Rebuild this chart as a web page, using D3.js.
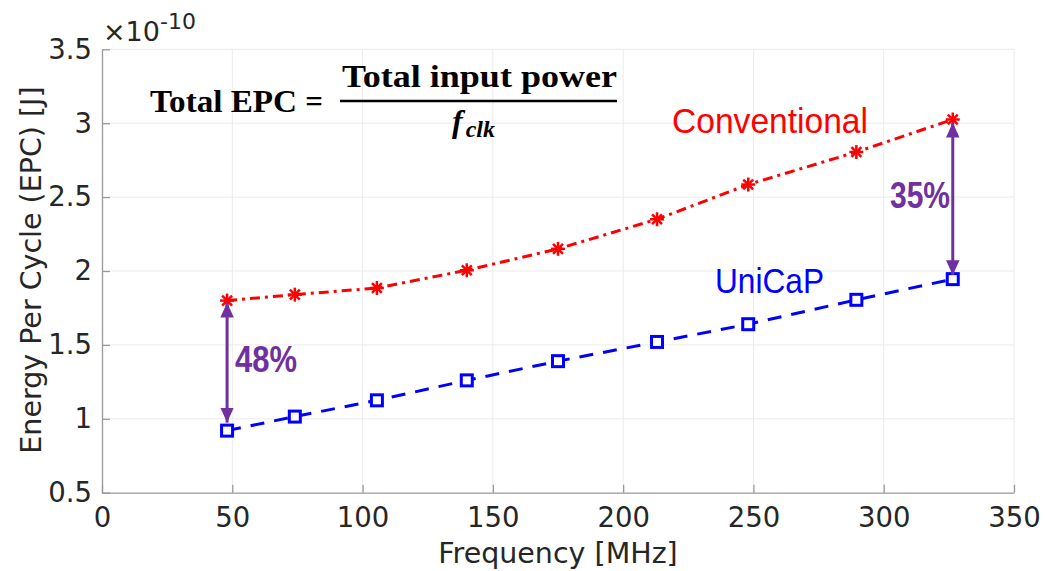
<!DOCTYPE html>
<html><head><meta charset="utf-8">
<script src="https://cdn.jsdelivr.net/npm/d3@7"></script>
<style>body{margin:0;background:#fff}svg{display:block}</style>
</head><body>
<svg id="c" width="1047" height="571"></svg>
<script>
const freqConv = [48, 74, 105.5, 140, 175, 213, 248, 289.5, 326.5];
const epcConv  = [1.80, 1.84, 1.885, 2.005, 2.15, 2.35, 2.585, 2.805, 3.025];
const freqUni  = [48, 74, 105.5, 140, 175, 213, 248, 289.5, 326.5];
const epcUni   = [0.92, 1.015, 1.125, 1.26, 1.39, 1.52, 1.64, 1.805, 1.945];
const xTicks = [0, 50, 100, 150, 200, 250, 300, 350];
const yTicks = [0.5, 1, 1.5, 2, 2.5, 3, 3.5];

const svg = d3.select("#c");
const x = d3.scaleLinear().domain([0, 350]).range([102, 1014]);
const y = d3.scaleLinear().domain([0.5, 3.5]).range([492.7, 49.3]);
const font = "DejaVu Sans, sans-serif";
const txt = "#262626";

// grid
svg.append("g").selectAll("line").data(xTicks.slice(1)).join("line")
  .attr("x1", d => x(d)).attr("x2", d => x(d)).attr("y1", y(0.5)).attr("y2", y(3.5))
  .attr("stroke", "#ebebeb").attr("stroke-width", 1);
svg.append("g").selectAll("line").data(yTicks.slice(1)).join("line")
  .attr("x1", x(0)).attr("x2", x(350)).attr("y1", d => y(d)).attr("y2", d => y(d))
  .attr("stroke", "#ebebeb").attr("stroke-width", 1);

// axes
const xAxis = svg.append("g").attr("transform", `translate(0,${y(0.5)})`)
  .call(d3.axisBottom(x).tickValues(xTicks).tickSize(-8).tickPadding(15).tickSizeOuter(0));
const yAxis = svg.append("g").attr("transform", `translate(${x(0)},0)`)
  .call(d3.axisLeft(y).tickValues(yTicks).tickSize(-8).tickPadding(10).tickSizeOuter(0)
    .tickFormat(d => d3.format("")(d)));
[xAxis, yAxis].forEach(a => {
  a.select(".domain").attr("stroke", "#999").attr("stroke-width", 1.3);
  a.selectAll(".tick line").attr("stroke", "#999").attr("stroke-width", 1.3);
  a.selectAll(".tick text").attr("fill", txt).attr("font-family", font).attr("font-size", 27.5);
});
xAxis.selectAll(".tick text").attr("dy", "0.71em");

// axis labels
svg.append("text").attr("x", 558).attr("y", 563).attr("text-anchor", "middle")
  .attr("font-family", font).attr("font-size", 28.5).attr("fill", txt).text("Frequency [MHz]");
svg.append("text").attr("transform", "translate(41,270) rotate(-90)").attr("text-anchor", "middle")
  .attr("font-family", font).attr("font-size", 28.5).attr("fill", txt).text("Energy Per Cycle (EPC) [J]");
// exponent
const ex = svg.append("text").attr("x", 103).attr("y", 41).attr("font-family", font)
  .attr("font-size", 27).attr("fill", txt);
ex.append("tspan").text("\u00d710");
ex.append("tspan").attr("dy", -12).attr("font-size", 22).text("-10");

// lines
const line = d3.line().x(d => x(d[0])).y(d => y(d[1]));
const conv = freqConv.map((f, i) => [f, epcConv[i]]);
const uni = freqUni.map((f, i) => [f, epcUni[i]]);
svg.append("path").datum(conv).attr("d", line).attr("fill", "none")
  .attr("stroke", "#ff0000").attr("stroke-width", 3).attr("stroke-dasharray", "10 5 3 5");
svg.append("path").datum(uni).attr("d", line).attr("fill", "none")
  .attr("stroke", "#0000ff").attr("stroke-width", 3).attr("stroke-dasharray", "14 10");

// asterisk markers
const star = svg.append("g").selectAll("g").data(conv).join("g")
  .attr("transform", d => `translate(${x(d[0])},${y(d[1])})`);
[0, 45, 90, 135].forEach(a => {
  star.append("line").attr("x1", -7).attr("x2", 7).attr("y1", 0).attr("y2", 0)
    .attr("transform", `rotate(${a})`).attr("stroke", "#ff0000").attr("stroke-width", 2.5);
});
// square markers
svg.append("g").selectAll("rect").data(uni).join("rect")
  .attr("x", d => x(d[0]) - 5.5).attr("y", d => y(d[1]) - 5.5).attr("width", 11).attr("height", 11)
  .attr("fill", "#fff").attr("stroke", "#0000ff").attr("stroke-width", 3);

// arrows
const purple = "#7030a0";
const defs = svg.append("defs");
defs.append("marker").attr("id", "ah").attr("viewBox", "0 0 10 10").attr("refX", 10).attr("refY", 5)
  .attr("markerWidth", 5).attr("markerHeight", 4.5).attr("markerUnits", "strokeWidth").attr("orient", "auto-start-reverse")
  .attr("preserveAspectRatio", "none")
  .append("path").attr("d", "M0,0 L10,5 L0,10 Z").attr("fill", purple);
function arrow(f, v1, v2, o1, o2) {
  svg.append("line").attr("x1", x(f)).attr("x2", x(f))
    .attr("y1", y(v1) + o1).attr("y2", y(v2) - o2)
    .attr("stroke", purple).attr("stroke-width", 3)
    .attr("marker-start", "url(#ah)").attr("marker-end", "url(#ah)");
}
arrow(freqConv[0], epcConv[0], epcUni[0], 2, 8);
arrow(freqConv[8], epcConv[8], epcUni[8], 3, 4);
const nf = "Liberation Sans Narrow, Liberation Sans, Arial, sans-serif";
svg.append("text").attr("x", 235).attr("y", 372).attr("font-family", nf).attr("font-weight", "bold")
  .attr("font-size", 36).attr("fill", purple).attr("textLength", 62).attr("lengthAdjust", "spacingAndGlyphs").text("48%");
svg.append("text").attr("x", 890).attr("y", 208).attr("font-family", nf).attr("font-weight", "bold")
  .attr("font-size", 36).attr("fill", purple).attr("textLength", 60).attr("lengthAdjust", "spacingAndGlyphs").text("35%");

// series labels
svg.append("text").attr("x", 672).attr("y", 133).attr("font-family", "Liberation Sans, Arial, sans-serif")
  .attr("font-size", 35).attr("fill", "#ff0000").attr("textLength", 196).attr("lengthAdjust", "spacingAndGlyphs").text("Conventional");
svg.append("text").attr("x", 715).attr("y", 293).attr("font-family", "Liberation Sans, Arial, sans-serif")
  .attr("font-size", 35).attr("fill", "#0000ff").attr("textLength", 109).attr("lengthAdjust", "spacingAndGlyphs").text("UniCaP");

// equation
const sf = "Liberation Serif, DejaVu Serif, serif";
svg.append("text").attr("x", 150).attr("y", 112).attr("font-family", sf).attr("font-weight", "bold")
  .attr("font-size", 31).attr("fill", "#000").attr("textLength", 147).attr("lengthAdjust", "spacingAndGlyphs").text("Total EPC");
svg.append("text").attr("x", 314).attr("y", 112).attr("text-anchor", "middle").attr("font-family", sf)
  .attr("font-weight", "bold").attr("font-size", 31).attr("fill", "#000").text("=");
svg.append("line").attr("x1", 340).attr("x2", 617).attr("y1", 101).attr("y2", 101)
  .attr("stroke", "#000").attr("stroke-width", 2.5);
svg.append("text").attr("x", 342).attr("y", 87).attr("font-family", sf)
  .attr("font-weight", "bold").attr("font-size", 31).attr("fill", "#000")
  .attr("textLength", 275).attr("lengthAdjust", "spacingAndGlyphs").text("Total input power");
const fc = svg.append("text").attr("x", 452).attr("y", 132).attr("font-family", sf)
  .attr("font-weight", "bold").attr("font-style", "italic").attr("font-size", 32).attr("fill", "#000");
fc.append("tspan").text("f");
fc.append("tspan").attr("dx", 3).attr("dy", 5).attr("font-size", 24).text("clk");
</script>
</body></html>
